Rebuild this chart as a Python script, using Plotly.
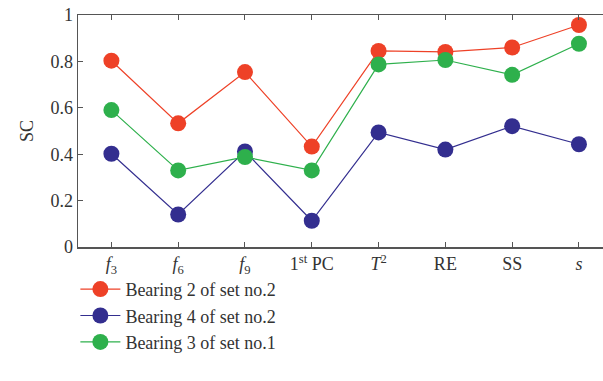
import plotly.graph_objects as go

categories = ["<i>f</i><sub>3</sub>", "<i>f</i><sub>6</sub>", "<i>f</i><sub>9</sub>",
              "1<sup>st</sup> PC", "<i>T</i><sup>2</sup>", "RE", "SS", "<i>s</i>"]
red_vals = [0.803, 0.533, 0.754, 0.433, 0.845, 0.841, 0.860, 0.957]
blue_vals = [0.402, 0.140, 0.412, 0.113, 0.494, 0.420, 0.521, 0.443]
green_vals = [0.590, 0.330, 0.388, 0.330, 0.787, 0.806, 0.742, 0.876]
names = ["Bearing 2 of set no.2", "Bearing 4 of set no.2", "Bearing 3 of set no.1"]
colors = ["#EE4127", "#332E8F", "#2EB04C"]

x = list(range(len(categories)))
fig = go.Figure()
for vals, name, col in zip([red_vals, blue_vals, green_vals], names, colors):
    fig.add_trace(go.Scatter(x=x, y=vals, name=name, mode="lines+markers",
                             line=dict(color=col, width=1.2),
                             marker=dict(color=col, size=16)))

font = "Liberation Serif"
fig.update_layout(
    width=603, height=381,
    margin=dict(l=78, r=0, t=15, b=134, autoexpand=False),
    plot_bgcolor="white", paper_bgcolor="white",
    font=dict(family=font, size=18, color="#333333"),
    showlegend=True,
    legend=dict(x=-0.005, y=-0.103, xanchor="left", yanchor="top",
                font=dict(family=font, size=18, color="#333333"),
                bgcolor="rgba(0,0,0,0)", tracegroupgap=0, itemwidth=40),
    xaxis=dict(tickmode="array", tickvals=x, ticktext=categories,
               range=[-0.5, 7.36], showgrid=False, zeroline=False,
               showline=True, linecolor="#555555", linewidth=1.5,
               mirror="ticks", ticks="inside", ticklen=5, tickcolor="#555555",
               tickfont=dict(family=font, size=18, color="#333333")),
    yaxis=dict(range=[0, 1], tickvals=[0, 0.2, 0.4, 0.6, 0.8, 1],
               ticktext=["0", "0.2", "0.4", "0.6", "0.8", "1"],
               showgrid=False, zeroline=False, mirror=False,
               showline=True, linecolor="#555555", linewidth=1.5,
               ticks="inside", ticklen=5, tickcolor="#555555",
               tickfont=dict(family=font, size=18, color="#333333"),
               title=dict(text="SC", font=dict(family=font, size=18, color="#333333"),
                          standoff=12)),
)
fig.write_html("out.html", config={"displayModeBar": False, "staticPlot": True},
               post_script="document.documentElement.style.overflow='hidden';"
                           "document.body.style.margin='0';document.body.style.overflow='hidden';")
